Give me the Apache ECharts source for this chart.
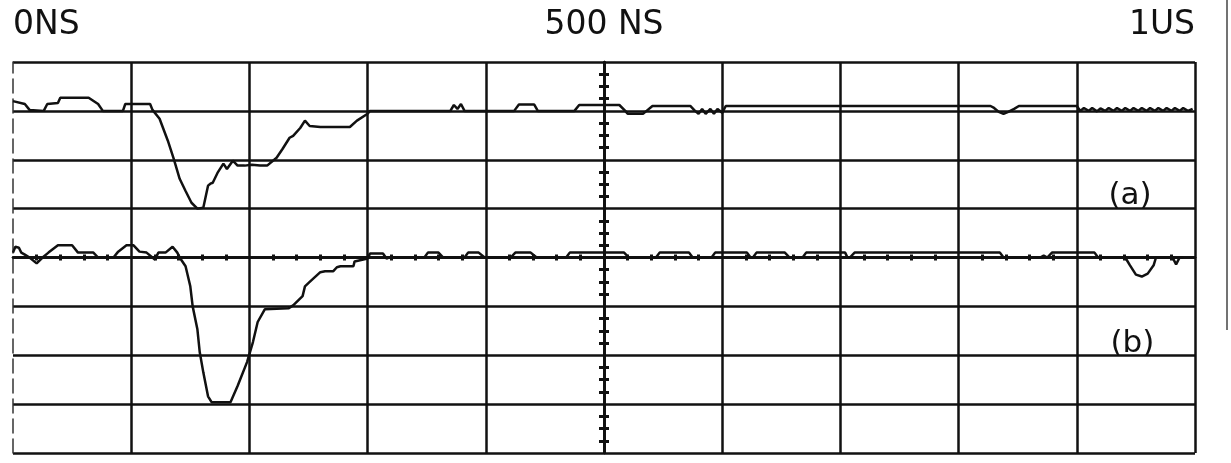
<!DOCTYPE html>
<html><head><meta charset="utf-8">
<script src="https://cdn.jsdelivr.net/npm/echarts@6/dist/echarts.min.js"></script>
<style>html,body{margin:0;padding:0;background:#fff}#c{width:1231px;height:463px}</style>
</head><body><div id="c"></div>
<script>
// Trace (a): time in ns, vertical position in divisions (0 = bottom line, 8 = top line)
const timeA = [0,10,14,26,29,38,40,64,72,76,93,95,116,118,124,131,136,141,146,151,156,161,165,167,169,173,178,181,186,190,196,202,209,215,223,228,234,237,243,247,251,260,285,291,300,302,
  370,373,376,379,382,424,428,441,444,475,479,513,518,520,533,536,541,573,577,580,583,586,590,593,596,600,603,827,830,834,838,842,847,851,900,903,
  906,910,913,917,920,924,927,931,934,938,941,945,948,952,955,959,962,966,969,973,976,980,983,987,990,994,998];
const voltA = [7.20,7.14,7.02,7.00,7.14,7.16,7.27,7.27,7.14,7.00,7.00,7.14,7.14,7.02,6.84,6.39,6.02,5.61,5.36,5.12,5.00,5.02,5.47,5.51,5.53,5.73,5.92,5.81,5.98,5.88,5.88,5.90,5.88,5.88,6.04,6.22,6.45,6.49,6.65,6.80,6.69,6.67,6.67,6.80,6.94,7.00,
  7.00,7.12,7.04,7.14,7.00,7.00,7.13,7.13,7.00,7.00,7.12,7.12,7.00,6.94,6.94,7.00,7.10,7.10,7.00,6.94,7.04,6.94,7.04,6.94,7.04,6.96,7.10,7.10,7.06,6.98,6.94,6.98,7.04,7.10,7.10,7.00,
  7.06,7.00,7.06,6.99,7.05,7.00,7.06,7.00,7.06,7.00,7.06,7.00,7.06,7.00,7.06,7.00,7.06,7.00,7.06,7.00,7.06,7.00,7.06,7.00,7.06,7.00,7.04];

// Trace (b)
const timeB = [0,2,5,7,10,14,20,25,30,38,50,55,68,72,85,89,96,102,107,113,120,123,129,135,139,141,146,150,152,156,158,161,165,168,184,190,198,203,207,213,233,237,245,247,251,260,264,271,274,277,288,289,300,302,313,316,318,
  348,351,360,364,382,385,394,399,421,425,438,443,468,471,517,521,544,547,572,575,591,594,621,624,626,629,653,657,668,671,704,706,708,712,835,838,869,872,875,879,915,918,941,945,950,955,960,965,967,981,984,987,990];
const voltB = [4.10,4.22,4.20,4.10,4.06,4.00,3.88,4.00,4.10,4.25,4.25,4.10,4.10,4.00,4.00,4.12,4.25,4.25,4.12,4.10,3.96,4.10,4.10,4.22,4.10,4.00,3.82,3.41,3.00,2.53,2.06,1.65,1.16,1.04,1.04,1.37,1.86,2.27,2.68,2.94,2.96,3.02,3.21,3.41,3.50,3.70,3.72,3.72,3.80,3.82,3.82,3.92,3.98,4.08,4.08,3.98,4.00,
  4.00,4.10,4.10,4.00,4.00,4.10,4.10,4.00,4.00,4.10,4.10,4.00,4.00,4.10,4.10,4.00,4.00,4.10,4.10,4.00,4.00,4.10,4.10,4.00,4.00,4.10,4.10,4.00,4.00,4.10,4.10,4.00,4.00,4.10,4.10,4.00,4.00,4.04,4.00,4.10,4.10,4.00,4.00,3.84,3.65,3.61,3.67,3.84,4.00,4.00,3.86,4.00,4.00];

const timeTicks = [0, 500, 1000];
const timeTickLabels = ['0NS', '500 NS', '1US'];
const traceNames = ['(a)', '(b)'];
const traceLabelTime = [945, 947];
const traceLabelLevel = [5.26, 2.23];

const INK = '#111';
const FONT = 'DejaVu Sans';
const pairs = (t, v) => t.map((x, i) => [x, v[i]]);

const chart = echarts.init(document.getElementById('c'), null, {renderer: 'canvas'});
chart.setOption({
  animation: false,
  backgroundColor: '#fff',
  grid: {left: 13, right: 36, top: 62, bottom: 10, containLabel: false},
  xAxis: [
    { // main time axis, drawn along the centre line
      type: 'value', min: 0, max: 1000, interval: 100, position: 'bottom',
      axisLine: {show: true, onZero: true, onZeroAxisIndex: 1, lineStyle: {color: INK, width: 2.5}},
      axisTick: {show: false},
      minorTick: {show: true, splitNumber: 5, length: 3, lineStyle: {color: INK, width: 3}},
      axisLabel: {show: false},
      splitLine: {show: true, showMinLine: false, lineStyle: {color: INK, width: 2.5}}
    },
    { // centred helper axis (-500..500) for the cross ticks
      type: 'value', min: -500, max: 500, interval: 100, position: 'bottom',
      axisLine: {show: true, onZero: true, onZeroAxisIndex: 1, lineStyle: {color: INK, width: 2.5}},
      axisTick: {show: false, inside: true},
      minorTick: {show: true, splitNumber: 5, length: 3, lineStyle: {color: INK, width: 3}},
      axisLabel: {show: false},
      splitLine: {show: false}
    },
    { // top labels
      type: 'value', min: 0, max: 1000, position: 'top',
      axisLine: {show: false, onZero: false},
      axisTick: {show: false},
      splitLine: {show: false},
      axisLabel: {
        show: true, margin: 20, fontSize: 33, color: INK, fontFamily: FONT,
        customValues: timeTicks,
        alignMinLabel: 'left', alignMaxLabel: 'right',
        showMinLabel: true, showMaxLabel: true,
        formatter: v => { const i = timeTicks.indexOf(v); return i >= 0 ? timeTickLabels[i] : ''; }
      }
    }
  ],
  yAxis: [
    {
      type: 'value', min: 0, max: 8, interval: 1, position: 'left',
      axisLine: {show: true, onZero: true, onZeroAxisIndex: 1, lineStyle: {color: INK, width: 2.5}},
      axisTick: {show: false},
      minorTick: {show: true, splitNumber: 4, length: 5, lineStyle: {color: INK, width: 3}},
      axisLabel: {show: false},
      splitLine: {show: true, lineStyle: {color: INK, width: 2.5}}
    },
    {
      type: 'value', min: -4, max: 4, interval: 1, position: 'left',
      axisLine: {show: true, onZero: true, onZeroAxisIndex: 1, lineStyle: {color: INK, width: 2.5}},
      axisTick: {show: false, inside: true},
      minorTick: {show: true, splitNumber: 4, length: 5, lineStyle: {color: INK, width: 3}},
      axisLabel: {show: false},
      splitLine: {show: false}
    },
    { // left border, faint and broken
      type: 'value', min: 0, max: 8, position: 'left',
      axisLine: {show: true, onZero: false, lineStyle: {color: '#333', width: 1.5, type: [14, 6]}},
      axisTick: {show: false}, axisLabel: {show: false}, splitLine: {show: false}
    }
  ],
  graphic: [
    {type: 'line', shape: {x1: 1227, y1: 0, x2: 1227, y2: 330}, style: {stroke: '#444', lineWidth: 1.5}, silent: true}
  ],
  series: [
    {
      name: traceNames[0], type: 'line', xAxisIndex: 0, yAxisIndex: 0,
      data: pairs(timeA, voltA), showSymbol: false, symbol: 'none',
      lineStyle: {color: INK, width: 2.5}, z: 5
    },
    {
      name: traceNames[1], type: 'line', xAxisIndex: 0, yAxisIndex: 0,
      data: pairs(timeB, voltB), showSymbol: false, symbol: 'none',
      lineStyle: {color: INK, width: 2.5}, z: 5
    },
    {
      type: 'scatter', xAxisIndex: 0, yAxisIndex: 0, symbolSize: 0, silent: true,
      itemStyle: {color: INK, opacity: 1},
      data: traceNames.map((n, i) => ({value: [traceLabelTime[i], traceLabelLevel[i]], name: n})),
      label: {show: true, position: 'inside', formatter: p => p.name, fontSize: 31,
              color: INK, opacity: 1, fontFamily: FONT, textBorderWidth: 0, textShadowBlur: 0}
    }
  ]
});
</script>
</body></html>
